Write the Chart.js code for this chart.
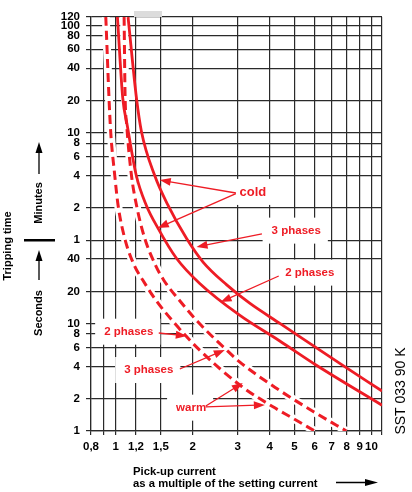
<!DOCTYPE html>
<html>
<head>
<meta charset="utf-8">
<script src="https://cdn.jsdelivr.net/npm/chart.js@4.4.0/dist/chart.umd.min.js"></script>
<style>
  html, body { margin: 0; padding: 0; background: #fff; }
  canvas { display: block; }
</style>
</head>
<body>
<canvas id="c" width="412" height="492"></canvas>
<script>
// Axis ticks: pick-up current (multiple of setting current) and tripping time
const xTicks  = [0.8, 0.9, 1, 1.2, 1.5, 2, 3, 4, 5, 6, 7, 8, 9, 10, 11];
const xLabels = ['0,8', '', '1', '1,2', '1,5', '2', '3', '4', '5', '6', '7', '8', '9', '10', ''];
const secTicks = [1, 2, 4, 6, 8, 10, 20, 40];                    // seconds
const minTicks = [1, 2, 4, 6, 8, 10, 20, 40, 60, 80, 100, 120];  // minutes

// Cold state, 3 phases (current multiple -> seconds)
const cold3I = [1.117, 1.205, 1.26, 1.42, 1.60, 1.89, 2.195, 2.71, 3.34, 4.4, 7.52, 11];
const cold3T = [7200, 1260, 618, 240, 127, 62.4, 37.5, 23.1, 15.5, 10.0, 4.26, 2.36];
// Cold state, 2 phases
const cold2I = [1.015, 1.065, 1.109, 1.203, 1.316, 1.464, 1.727, 2.13, 3.05, 4.38, 6.09, 11];
const cold2T = [7200, 1260, 703, 240, 127, 77.3, 40.7, 23.7, 12.0, 6.9, 4.1, 1.74];
// Warm state, 3 phases
const warm3I = [1.078, 1.087, 1.104, 1.152, 1.205, 1.298, 1.431, 1.541, 1.77, 2.094, 2.69, 3.05, 4.25, 6.09, 7.98];
const warm3T = [7200, 1400, 703, 240, 127, 62.4, 35, 25.4, 16.6, 10.4, 5.79, 4.41, 2.50, 1.46, 1];
// Warm state, 2 phases
const warm2I = [0.914, 0.952, 0.991, 1.021, 1.084, 1.181, 1.275, 1.434, 1.68, 2.11, 3.11, 4.12, 4.94, 6.0];
const warm2T = [7200, 703, 240, 127, 62.4, 35, 25.5, 16.6, 10.4, 5.79, 2.6, 1.68, 1.31, 1];

// Curve labels, anchored in chart units (current, seconds)
const noteText = ['cold', '3 phases', '2 phases', '2 phases', '3 phases', 'warm'];
const noteI    = [3.44, 5.08, 5.74, 1.124, 1.346, 1.971];
const noteT    = [168.8, 73.6, 29.9, 8.42, 3.70, 1.65];
// Pointer arrows: from (I, t) to (I, t)
const arrowFromI = [2.95, 2.95, 3.73, 4.34, 1.473, 1.78, 2.25, 2.25];
const arrowFromT = [165, 163, 68.5, 27.8, 8.19, 3.78, 1.71, 1.68];
const arrowToI   = [1.486, 1.46, 2.07, 2.57, 1.896, 2.67, 3.14, 3.83];
const arrowToT   = [218, 78, 51.9, 15.9, 7.68, 5.69, 2.80, 1.75];

const RED = '#ee1c25';
const GRID = '#2a2a2a';
const FAMILY = "'Liberation Sans', Arial, Helvetica, sans-serif";

const yTicks = secTicks.concat(minTicks.map(m => m * 60));
const yLabels = secTicks.concat(minTicks).map(String);

function pts(xs, ys) { return xs.map((x, i) => ({ x: x, y: ys[i] })); }

function drawArrow(ctx, x1, y1, x2, y2, head, half, w) {
  const a = Math.atan2(y2 - y1, x2 - x1);
  const c = Math.cos(a), s = Math.sin(a);
  ctx.beginPath();
  ctx.moveTo(x1, y1);
  ctx.lineTo(x2 - c * head * 0.7, y2 - s * head * 0.7);
  ctx.lineWidth = w;
  ctx.stroke();
  ctx.beginPath();
  ctx.moveTo(x2, y2);
  ctx.lineTo(x2 - c * head + s * half, y2 - s * head - c * half);
  ctx.lineTo(x2 - c * head - s * half, y2 - s * head + c * half);
  ctx.closePath();
  ctx.fill();
}

function noteFont(i) {
  return 'bold ' + (noteText[i] === 'cold' ? 13 : 11.5) + 'px ' + FAMILY;
}

const decorations = {
  id: 'decorations',
  beforeDatasetsDraw(chart) {
    // white panels behind the curve labels
    const { ctx, scales } = chart;
    ctx.save();
    ctx.fillStyle = '#fff';
    noteText.forEach((t, i) => {
      ctx.font = noteFont(i);
      const w = ctx.measureText(t).width;
      const cx = scales.x.getPixelForValue(noteI[i]);
      const cy = scales.y.getPixelForValue(noteT[i]);
      ctx.fillRect(cx - w / 2 - 9, cy - 13, w + 16, 26);
    });
    ctx.restore();
  },
  afterDatasetsDraw(chart) {
    const { ctx, scales } = chart;
    ctx.save();
    ctx.strokeStyle = RED;
    ctx.fillStyle = RED;
    arrowFromI.forEach((v, i) => {
      drawArrow(ctx,
        scales.x.getPixelForValue(v), scales.y.getPixelForValue(arrowFromT[i]),
        scales.x.getPixelForValue(arrowToI[i]), scales.y.getPixelForValue(arrowToT[i]),
        11, 4, 1.3);
    });
    ctx.textAlign = 'center';
    ctx.textBaseline = 'middle';
    noteText.forEach((t, i) => {
      ctx.font = noteFont(i);
      ctx.fillText(t, scales.x.getPixelForValue(noteI[i]), scales.y.getPixelForValue(noteT[i]));
    });
    ctx.restore();
  },
  afterDraw(chart) {
    const ctx = chart.ctx;
    ctx.save();
    ctx.fillStyle = '#000';
    ctx.strokeStyle = '#000';
    ctx.textAlign = 'center';
    ctx.textBaseline = 'middle';

    // vertical axis captions
    const vtext = (txt, x, y, font) => {
      ctx.save();
      ctx.translate(x, y);
      ctx.rotate(-Math.PI / 2);
      ctx.font = font;
      ctx.fillText(txt, 0, 0);
      ctx.restore();
    };
    vtext('Tripping time', 8, 246, 'bold 11px ' + FAMILY);
    vtext('Minutes', 39, 203, 'bold 11px ' + FAMILY);
    vtext('Seconds', 39, 313, 'bold 11px ' + FAMILY);
    ctx.fillRect(24, 239, 31, 2.5);
    drawArrow(ctx, 39, 174, 39, 142, 11, 3.5, 1.3);
    drawArrow(ctx, 39, 280, 39, 250, 11, 3.5, 1.3);

    // horizontal axis caption
    ctx.textAlign = 'left';
    ctx.font = 'bold 11.3px ' + FAMILY;
    ctx.fillText('Pick-up current', 133, 472);
    ctx.fillText('as a multiple of the setting current', 133, 483.5);
    drawArrow(ctx, 336, 482.5, 378, 482.5, 13, 3.5, 1.3);

    // drawing reference number
    ctx.textAlign = 'center';
    vtext('SST 033 90 K', 401, 391, '14px ' + FAMILY);

    // small grey mark above the frame
    ctx.fillStyle = '#dcdcdc';
    ctx.fillRect(134, 11, 28, 6);
    ctx.restore();
  }
};

const common = { pointRadius: 0, fill: false, cubicInterpolationMode: 'monotone' };

new Chart(document.getElementById('c'), {
  type: 'line',
  data: {
    datasets: [
      Object.assign({ label: 'cold, 3 phases', data: pts(cold3I, cold3T), borderColor: RED, borderWidth: 2.8, order: 1 }, common),
      Object.assign({ label: 'cold, 2 phases', data: pts(cold2I, cold2T), borderColor: RED, borderWidth: 2.8, order: 1 }, common),
      Object.assign({ label: 'warm, 3 phases', data: pts(warm3I, warm3T), borderColor: RED, borderWidth: 3, borderDash: [9, 5], order: 2 }, common),
      Object.assign({ label: 'warm, 2 phases', data: pts(warm2I, warm2T), borderColor: RED, borderWidth: 3, borderDash: [9, 5], order: 2 }, common),
      // white halos that open the grid around the dashed curves
      Object.assign({ label: 'halo 3', data: pts(warm3I, warm3T), borderColor: '#fff', borderWidth: 8, order: 3 }, common),
      Object.assign({ label: 'halo 2', data: pts(warm2I, warm2T), borderColor: '#fff', borderWidth: 8, order: 3 }, common)
    ]
  },
  options: {
    responsive: false,
    animation: false,
    events: [],
    layout: { padding: { top: 17, right: 30, left: 0, bottom: 0 } },
    plugins: { legend: { display: false }, tooltip: { enabled: false } },
    scales: {
      x: {
        type: 'logarithmic',
        min: 0.8,
        max: 11,
        afterBuildTicks: s => { s.ticks = xTicks.map(v => ({ value: v })); },
        afterFit: s => { s.height = 61; },
        ticks: {
          autoSkip: false,
          maxRotation: 0,
          padding: 5,
          color: '#000',
          font: { family: FAMILY, weight: 'bold', size: 11.5 },
          callback: (v, i) => xLabels[i]
        },
        grid: { color: GRID, lineWidth: 1.2, tickLength: 4 },
        border: { color: GRID, width: 1.2 }
      },
      y: {
        type: 'logarithmic',
        min: 1,
        max: 7200,
        afterBuildTicks: s => { s.ticks = yTicks.map(v => ({ value: v })); },
        afterFit: s => { s.width = 91; },
        ticks: {
          autoSkip: false,
          padding: 6,
          color: '#000',
          font: { family: FAMILY, weight: 'bold', size: 11.5 },
          callback: (v, i) => yLabels[i]
        },
        grid: { color: GRID, lineWidth: 1.2, tickLength: 5 },
        border: { color: GRID, width: 1.2 }
      }
    }
  },
  plugins: [decorations]
});
</script>
</body>
</html>
